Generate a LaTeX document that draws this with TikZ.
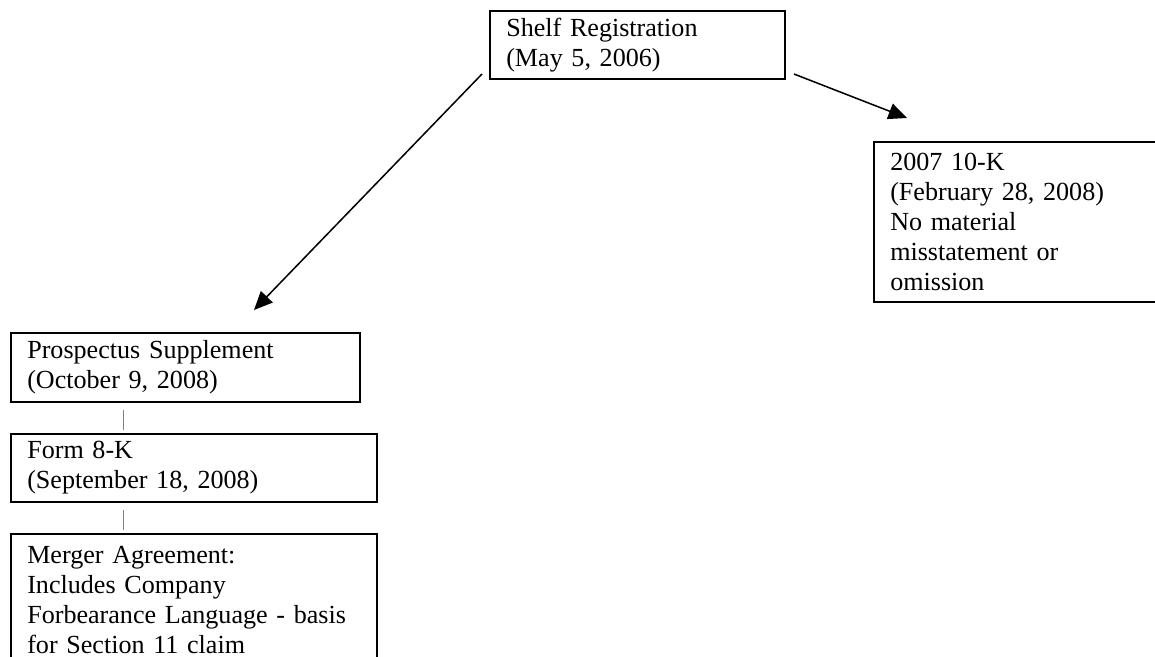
\documentclass[tikz,border=0pt]{standalone}
\usepackage{fontspec}
\setmainfont{Liberation Serif}
\usetikzlibrary{arrows.meta, calc}
\tikzstyle{docbox} = [draw, line width=0.9pt, anchor=north west, align=left, inner xsep=7.5pt, inner ysep=2pt, font=\fontsize{12}{13.8}\selectfont]
\tikzstyle{arrow} = [line width=0.7pt, -{Triangle[length=8.5pt, width=7.5pt]}]
\tikzstyle{link} = [line width=0.4pt, gray]

\begin{document}
\begin{tikzpicture}[x=0.46pt, y=-0.46pt] % pixel grid of the page, y down

    \useasboundingbox (0,0) rectangle (1155,656);
    \clip (0,0) rectangle (1155,656);

    \node (shelf) [docbox, text width=120.7pt, minimum height=31.3pt] at (489,10) {Shelf Registration\\(May 5, 2006)};
    \node (tenk) [docbox, text width=130pt, minimum height=73.6pt] at (873,141) {2007 10-K\\(February 28, 2008)\\No material\\misstatement or\\omission};
    \node (prosp) [docbox, text width=145.5pt, minimum height=31.7pt] at (10,332) {Prospectus Supplement\\(October 9, 2008)};
    \node (form) [docbox, text width=153.4pt, minimum height=31.3pt] at (10,433) {Form 8-K\\(September 18, 2008)};
    \node (merger) [docbox, text width=153.4pt, minimum height=61pt] at (10,533) {Merger Agreement:\\Includes Company\\Forbearance Language - basis\\for Section 11 claim};

    \draw[arrow] ($(shelf.south west)+(-7,-6)$) -- ($(prosp.north west)+(244,-22)$);
    \draw[arrow] ($(shelf.south east)+(8,-6)$) -- ($(tenk.north west)+(34,-23)$);
    \draw[link] ($(prosp.south west)+(113,7)$) -- ($(form.north west)+(113,-3)$);
    \draw[link] ($(form.south west)+(113,7)$) -- ($(merger.north west)+(113,-3)$);

\end{tikzpicture}
\end{document}
